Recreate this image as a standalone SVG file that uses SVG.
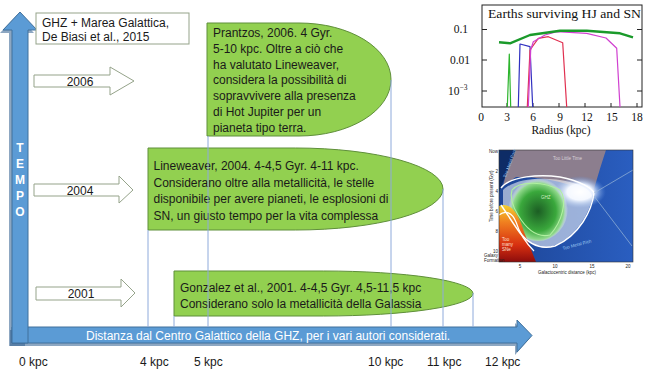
<svg xmlns="http://www.w3.org/2000/svg" width="650" height="369" viewBox="0 0 650 369">
<defs>
<style>
.t{font-family:"Liberation Sans",Arial,sans-serif;font-size:12px;fill:#1a1a1a}
.w{font-family:"Liberation Sans",Arial,sans-serif;font-size:12px;fill:#ffffff}
.green{fill:#92d050;stroke:#5f8f3a;stroke-width:1}
.hollow{fill:#ffffff;stroke:#95a38a;stroke-width:1}
.blue{fill:#5b9bd5;stroke:#41719c;stroke-width:1}
.shadow{fill:#2f5f8f;opacity:0.55}
.conn{stroke:#8eaadb;stroke-width:1;fill:none}
.serif{font-family:"Liberation Serif","Times New Roman",serif;fill:#111}
.tiny{font-family:"Liberation Sans",Arial,sans-serif;font-size:4.5px}
</style>
<radialGradient id="gblob" cx="0.5" cy="0.55" r="0.5">
<stop offset="0" stop-color="#1c5e24"/>
<stop offset="0.6" stop-color="#3aa83c"/>
<stop offset="0.85" stop-color="#8fd88a"/>
<stop offset="1" stop-color="#ffffff" stop-opacity="0"/>
</radialGradient>
<radialGradient id="glow" cx="0.5" cy="0.5" r="0.5">
<stop offset="0" stop-color="#ffffff"/>
<stop offset="0.5" stop-color="#e8f0ff"/>
<stop offset="1" stop-color="#5a8fe0" stop-opacity="0"/>
</radialGradient>
<linearGradient id="bg" x1="0" y1="0" x2="1" y2="0">
<stop offset="0" stop-color="#1d4596"/>
<stop offset="1" stop-color="#2a5ec0"/>
</linearGradient>
<linearGradient id="red" x1="0" y1="0" x2="0" y2="1">
<stop offset="0" stop-color="#f4d030"/>
<stop offset="0.3" stop-color="#f08020"/>
<stop offset="0.7" stop-color="#d83010"/>
<stop offset="1" stop-color="#8c0c0c"/>
</linearGradient>
</defs>
<rect width="650" height="369" fill="#ffffff"/>

<!-- Axes -->
<g id="axis-distance">
<polygon class="shadow" points="10,330 515,330 515,323 530,338 515,355 515,346 10,346"/>
<polygon class="blue" points="12,327 517,327 517,320 532,335.5 517,352 517,343 12,343"/>
<text class="w" x="86" y="339.5">Distanza dal Centro Galattico della  GHZ, per i vari autori considerati.</text>
</g>
<g id="axis-time">
<polygon class="shadow" points="9,346 9,33 0,33 17,15 34,33 25,33 25,346"/>
<polygon class="blue" points="12,343 12,30 3,30 20,12 37,30 28,30 28,343"/>
<g font-family="'Liberation Sans',Arial,sans-serif" font-size="12" font-weight="bold" fill="#ffffff" text-anchor="middle">
<text x="20" y="152">T</text>
<text x="20" y="168">E</text>
<text x="20" y="184">M</text>
<text x="20" y="200">P</text>
<text x="20" y="216">O</text>
</g>
</g>

<!-- Header box -->
<g id="node-ghz">
<rect class="hollow" x="36" y="13" width="153" height="31"/>
<text class="t" x="42" y="27">GHZ + Marea Galattica,</text>
<text class="t" x="42" y="41">De Biasi et al., 2015</text>
</g>

<!-- Year arrows -->
<g id="node-2006">
<polygon class="hollow" points="34,75 110,75 110,67 134,81 110,95 110,87 34,87"/>
<text class="t" x="80" y="85.5" text-anchor="middle" font-size="11.5">2006</text>
</g>
<g id="node-2004">
<polygon class="hollow" points="34,184 119,184 119,176 133,190 119,203 119,196 34,196"/>
<text class="t" x="80" y="194.5" text-anchor="middle" font-size="11.5">2004</text>
</g>
<g id="node-2001">
<polygon class="hollow" points="36,287 121,287 121,279 135,293 121,307 121,300 36,300"/>
<text class="t" x="81" y="297.5" text-anchor="middle" font-size="11.5">2001</text>
</g>

<!-- Green author shapes -->
<g id="node-prantzos">
<path class="green" d="M207,23 H299 A92,56.5 0 0 1 299,136 H207 Z"/>
<g class="t" font-size="12.5">
<text x="213" y="37">Prantzos, 2006. 4 Gyr.</text>
<text x="213" y="52.8">5-10 kpc. Oltre a ciò che</text>
<text x="213" y="68.6">ha valutato Lineweaver,</text>
<text x="213" y="84.4">considera la possibilità di</text>
<text x="213" y="100.2">sopravvivere alla presenza</text>
<text x="213" y="116">di Hot Jupiter per un</text>
<text x="213" y="131.8">pianeta tipo terra.</text>
</g>
</g>
<g id="node-lineweaver">
<path class="green" d="M148,148 H295.5 A147.5,41 0 0 1 295.5,230 H148 Z"/>
<text class="t" x="153.5" y="170">Lineweaver, 2004. 4-4,5 Gyr. 4-11 kpc.</text>
<text class="t" x="153.5" y="186.5">Considerano oltre alla metallicità, le stelle</text>
<text class="t" x="153.5" y="203">disponibile per avere pianeti, le esplosioni di</text>
<text class="t" x="153.5" y="219.5">SN, un giusto tempo per la vita complessa</text>
</g>
<g id="node-gonzalez">
<path class="green" d="M174,271 H323.5 A149.5,22.5 0 0 1 323.5,316 H174 Z"/>
<text class="t" x="180" y="292">Gonzalez et al., 2001. 4-4,5 Gyr. 4,5-11,5 kpc</text>
<text class="t" x="180" y="307.5">Considerano solo la metallicità della Galassia</text>
</g>

<!-- Connectors: vertical projection lines -->
<g id="connectors" class="conn">
<line x1="148" y1="230" x2="148" y2="327"/>
<line x1="174" y1="316" x2="174" y2="327"/>
<line x1="208" y1="136" x2="208" y2="327"/>
<line x1="391" y1="80" x2="391" y2="327"/>
<line x1="443" y1="189" x2="443" y2="327"/>
<line x1="473" y1="293" x2="473" y2="327"/>
</g>

<!-- Distance labels -->
<g id="distance-labels" class="t" font-size="12.5">
<text x="19" y="366">0 kpc</text>
<text x="140" y="366">4 kpc</text>
<text x="194" y="366">5 kpc</text>
<text x="368" y="366">10 kpc</text>
<text x="427" y="366">11 kpc</text>
<text x="485" y="366">12 kpc</text>
</g>

<!-- Plot: Earths surviving HJ and SN -->
<g id="plot-earths">
<rect x="482" y="5" width="160" height="102" fill="#ffffff" stroke="#222" stroke-width="1"/>
<g stroke="#222" stroke-width="1">
<line x1="482" y1="29.5" x2="487" y2="29.5"/><line x1="637" y1="29.5" x2="642" y2="29.5"/>
<line x1="482" y1="60" x2="487" y2="60"/><line x1="637" y1="60" x2="642" y2="60"/>
<line x1="482" y1="91" x2="487" y2="91"/><line x1="637" y1="91" x2="642" y2="91"/>
<line x1="507" y1="107" x2="507" y2="103"/><line x1="533" y1="107" x2="533" y2="103"/>
<line x1="559" y1="107" x2="559" y2="103"/><line x1="585" y1="107" x2="585" y2="103"/>
<line x1="611" y1="107" x2="611" y2="103"/><line x1="637" y1="107" x2="637" y2="103"/>
</g>
<text class="serif" x="488" y="18" font-size="11.5" textLength="153" lengthAdjust="spacingAndGlyphs">Earths surviving HJ and SN</text>
<text class="serif" x="468" y="33" font-size="11.5" text-anchor="end">0.1</text>
<text class="serif" x="470" y="64" font-size="11.5" text-anchor="end">0.01</text>
<text class="serif" x="448" y="95" font-size="11.5">10<tspan font-size="7.5" dy="-5">−3</tspan></text>
<g class="serif" font-size="11.5" text-anchor="middle">
<text x="481" y="121">0</text><text x="507" y="121">3</text><text x="533" y="121">6</text>
<text x="560" y="121">9</text><text x="587" y="121">12</text><text x="612" y="121">15</text>
<text x="637" y="121">18</text>
</g>
<text class="serif" x="561" y="134" font-size="11.5" text-anchor="middle">Radius (kpc)</text>
<g fill="none" stroke-linejoin="round">
<polyline points="507.3,107 509.3,54 510.7,107" stroke="#2db52d" stroke-width="1.2"/>
<polyline points="518.3,107 520,44 530,46.7 532.7,107" stroke="#3030c0" stroke-width="1.2"/>
<polyline points="527.3,107 530,50 538.3,38.3 548.3,36.7 562.7,42.7 566.7,107" stroke="#e03050" stroke-width="1.2"/>
<polyline points="528.3,107 530.7,50 533.3,41.7 545,35 556.7,31.7 586.7,33.3 606,38 616.7,48.3 620,107" stroke="#d040d0" stroke-width="1.2"/>
<polyline points="499,42.3 510,43.3 530,35 560,30.7 586.7,30.7 620,33.3 633,37.3" stroke="#1a9a2a" stroke-width="2.4"/>
</g>
</g>

<!-- Plot: Galactic habitable zone map -->
<g id="plot-ghz-map">
<rect x="499" y="150" width="134" height="112" fill="url(#bg)"/>
<path d="M512,150 H606 C601,165 596,182 593,193 C570,183 540,176 516,177 L503,186 Z" fill="#8c7e8e"/>
<ellipse cx="580" cy="192" rx="26" ry="16" fill="url(#glow)"/>
<path d="M503,190 C515,178 545,176 570,182 C585,186 594,192 592,200 C585,225 565,245 545,248 C525,245 512,225 503,205 Z" fill="#ffffff" opacity="0.55"/>
<ellipse cx="538" cy="208" rx="30" ry="33" fill="url(#gblob)"/>
<polygon points="499,150 516,150 499,192" fill="#0e2c66"/>
<path d="M499,206 C510,201 519,214 524,232 L536,262 H499 Z" fill="url(#red)"/>
<g fill="none">
<path d="M501,188 C510,176 540,174 560,177 C580,181 592,188 594,193 C592,210 580,235 555,246 C540,250 528,243 520,233 C512,222 506,212 501,205" stroke="#ffffff" stroke-width="1.4"/>
<path d="M512,190 C520,180 545,182 560,190 C568,200 562,222 550,235 C538,238 527,230 518,215 C512,205 510,196 512,190 Z" stroke="#b0f0a0" stroke-width="1.1"/>
<path d="M499,215 C505,210 512,212 516,222 C520,235 528,245 534,251" stroke="#ffffff" stroke-width="1.2"/>
<path d="M594,193 L633,170 M594,196 L632,246" stroke="#9ab8d8" stroke-width="0.7"/>
</g>
<rect x="499" y="150" width="134" height="112" fill="none" stroke="#333" stroke-width="0.6"/>
<g class="tiny">
<text x="553" y="160" fill="#d8d0d8">Too Little Time</text>
<text x="541" y="199" fill="#d0f0c0">GHZ</text>
<text x="502" y="241" fill="#ffe0d0">Too</text>
<text x="502" y="246" fill="#ffe0d0">many</text>
<text x="502" y="251" fill="#ffe0d0">SNe</text>
<text x="563" y="250" fill="#9cc8f0" transform="rotate(-15 563 250)">Too Metal Rich</text>
<text x="506" y="178" fill="#9cc8f0" transform="rotate(-70 506 178)">Too Metal Poor</text>
<text x="493" y="222" fill="#222" transform="rotate(-90 493 222)">Time before present (Gyr)</text>
<text x="567" y="274" fill="#222" text-anchor="middle">Galactocentric distance (kpc)</text>
<g fill="#222" text-anchor="middle">
<text x="520" y="268">5</text><text x="555" y="268">10</text><text x="592" y="268">15</text><text x="628" y="268">20</text>
</g>
<g fill="#222" text-anchor="end">
<text x="498" y="153">Now</text><text x="498" y="173">2</text><text x="498" y="193">4</text>
<text x="498" y="213">6</text><text x="498" y="233">8</text><text x="498" y="253">10</text>
</g>
<text x="484" y="257" fill="#222">Galaxy</text>
<text x="484" y="262" fill="#222">Formation</text>
</g>
</g>
</svg>
